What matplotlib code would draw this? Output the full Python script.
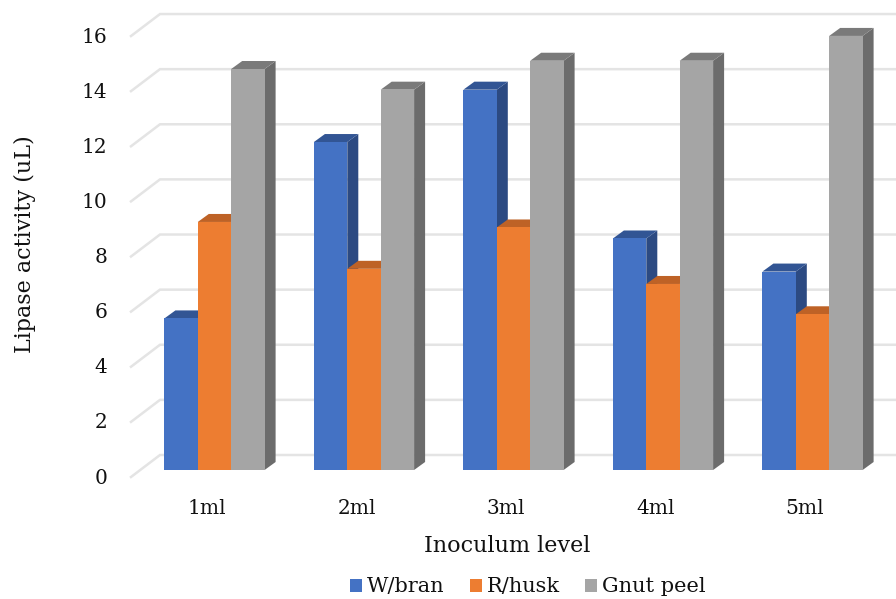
import matplotlib
matplotlib.use("Agg")
import matplotlib.pyplot as plt
from matplotlib.patches import Polygon, Patch

plt.rcParams['font.family'] = ['DejaVu Serif']

levels = ["1ml", "2ml", "3ml", "4ml", "5ml"]
wheat_bran = [5.5, 11.9, 13.8, 8.4, 7.2]
rice_husk = [9.0, 7.3, 8.8, 6.75, 5.65]
gnut_peel = [14.55, 13.8, 14.85, 14.85, 15.75]
series_names = ["W/bran", "R/husk", "Gnut peel"]
y_ticks = list(range(0, 17, 2))

W, H = 896, 599
PX_X = 149.5      # pixels per category
PX_Y = 27.56      # pixels per unit of activity
LEFT, RIGHT, BASE = 131, 896, 470
CENTER0 = 214.5
Y_MIN, Y_MAX = -1, 17

fig = plt.figure(figsize=(W / 100, H / 100), dpi=100)
ax_h = (Y_MAX - Y_MIN) * PX_Y
ax_bottom = BASE - Y_MIN * PX_Y
ax = fig.add_axes([LEFT / W, 1 - ax_bottom / H, (RIGHT - LEFT) / W, ax_h / H])
for s in ax.spines.values():
    s.set_visible(False)

# Oblique depth of the bars and the wall, in data units
bar_dx, bar_dy = 11 / PX_X, 8 / PX_Y
wall_x = (160 - CENTER0) / PX_X
front_x = (LEFT - CENTER0) / PX_X
front_dy, wall_dy = -7 / PX_Y, 15 / PX_Y
x_end = (RIGHT - CENTER0) / PX_X

for v in y_ticks:
    ax.plot([front_x, wall_x, x_end], [v + front_dy, v + wall_dy, v + wall_dy],
            color="#E4E4E4", lw=1.8, clip_on=False, zorder=1,
            solid_joinstyle="miter")

styles = [("#4472C4", "#2C4A82", "#325594"),
          ("#ED7D31", "#A0541F", "#BE6226"),
          ("#A5A5A5", "#6C6C6C", "#7A7A7A")]
all_series = [wheat_bran, rice_husk, gnut_peel]
bar_w = 33.4 / PX_X

for i in range(len(levels)):
    for j, values in enumerate(all_series):
        v = values[i]
        x0 = i + (j - 1.5) * bar_w
        x1 = x0 + bar_w
        face, side, top = styles[j]
        z = 3 + i + j * 0.1
        ax.add_patch(Polygon([(x1, 0), (x1 + bar_dx, bar_dy), (x1 + bar_dx, v + bar_dy), (x1, v)],
                             closed=True, fc=side, ec="none", zorder=z, clip_on=False))
        ax.add_patch(Polygon([(x0, v), (x0 + bar_dx, v + bar_dy), (x1 + bar_dx, v + bar_dy), (x1, v)],
                             closed=True, fc=top, ec="none", zorder=z, clip_on=False))
        ax.add_patch(Polygon([(x0, 0), (x1, 0), (x1, v), (x0, v)],
                             closed=True, fc=face, ec="none", zorder=z + 0.01, clip_on=False))

ax.set_xticks([i - 7.5 / PX_X for i in range(len(levels))], levels)
ax.set_yticks([v - 6 / PX_Y for v in y_ticks], [str(v) for v in y_ticks])
ax.set_xlim((LEFT - CENTER0) / PX_X, (RIGHT - CENTER0) / PX_X)
ax.set_ylim(Y_MIN, Y_MAX)
ax.tick_params(length=0, labelsize=14.5, colors="#111111")
ax.tick_params(axis="x", pad=1)
ax.tick_params(axis="y", pad=17)
ax.set_xlabel("Inoculum level", fontsize=16, color="#111111")
ax.xaxis.set_label_coords((507 - LEFT) / (RIGHT - LEFT), -(546 - ax_bottom) / ax_h)
ax.xaxis.label.set_va("center")
ax.set_ylabel("Lipase activity (uL)", fontsize=16, color="#111111")
ax.yaxis.set_label_coords(-(LEFT - 25) / (RIGHT - LEFT), (ax_bottom - 244) / ax_h)
ax.yaxis.label.set_va("center")

handles = [Patch(fc=s[0], ec="none") for s in styles]
fig.legend(handles, series_names, ncol=3, loc="center",
           bbox_to_anchor=(528 / W, 1 - 587 / H), frameon=False, fontsize=15,
           handlelength=0.58, handleheight=0.58, handletextpad=0.24, columnspacing=1.2,
           labelcolor="#111111")

fig.savefig("out.png", dpi=100)
